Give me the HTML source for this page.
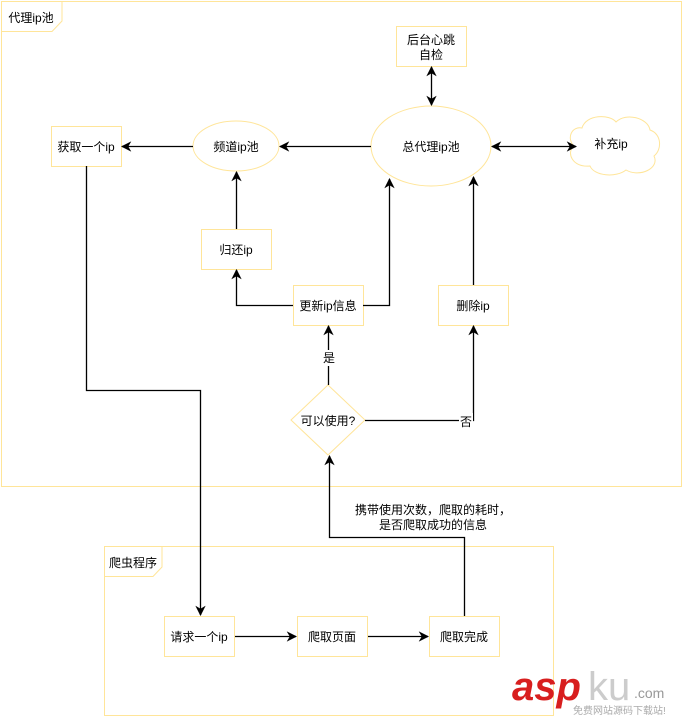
<!DOCTYPE html>
<html><head><meta charset="utf-8"><style>
body{margin:0;background:#fff;}
svg text{font-family:"Liberation Sans","Noto Sans CJK SC",sans-serif;font-size:12px;fill:#000;}
</style></head><body>
<svg width="683" height="718" viewBox="0 0 683 718" xmlns="http://www.w3.org/2000/svg">
<defs><marker id="a" viewBox="0 0 10 10" refX="9" refY="5" markerWidth="8" markerHeight="8" orient="auto-start-reverse"><path d="M0,0 L10,5 L0,10 L3,5 z" fill="#000"/></marker></defs>
<g fill="none" stroke="#ffe599" stroke-width="1">
<rect x="1.5" y="1.5" width="680" height="485"/>
<path d="M1.5,31.5 H52 L62,21 V1.5"/>
<rect x="104.5" y="546.5" width="449" height="169"/>
<path d="M104.5,576.5 H153 L162,567 V546.5"/>
<rect x="51.5" y="126.5" width="70" height="40" fill="#fff"/>
<ellipse cx="236" cy="146" rx="43" ry="25" fill="#fff"/>
<rect x="396.5" y="26.5" width="70" height="40" fill="#fff"/>
<ellipse cx="431" cy="146" rx="60" ry="40" fill="#fff"/>
<path d="M582,128 C586,114 610,114 616,122 C626,112 648,118 650,130 C662,134 662,150 654,156 C660,168 640,178 626,170 C616,178 594,176 590,166 C572,168 566,152 574,146 C566,138 572,126 582,128 Z" fill="#fff"/>
<rect x="201.5" y="229.5" width="70" height="40" fill="#fff"/>
<rect x="293.5" y="285.5" width="70" height="40" fill="#fff"/>
<rect x="438.5" y="285.5" width="70" height="40" fill="#fff"/>
<path d="M328,385 L365,420 L328,455 L291,420 Z" fill="#fff"/>
<rect x="164.5" y="616.5" width="70" height="40" fill="#fff"/>
<rect x="297.5" y="616.5" width="70" height="40" fill="#fff"/>
<rect x="429.5" y="616.5" width="70" height="40" fill="#fff"/>
</g>
<g fill="none" stroke="#000" stroke-width="1.3">
<path d="M86.5,166 V390.5 H200.5 V615" marker-end="url(#a)"/>
<path d="M464.5,616 V537.5 H329.5 V456" marker-end="url(#a)"/>
<path d="M328.5,385 V326" marker-end="url(#a)"/>
<path d="M365,420.5 H473.5 V326" marker-end="url(#a)"/>
<path d="M473.5,285 V177" marker-end="url(#a)"/>
<path d="M363,305.5 H389.5 V179" marker-end="url(#a)"/>
<path d="M293,305.5 H236.5 V270" marker-end="url(#a)"/>
<path d="M236.5,229 V172" marker-end="url(#a)"/>
<path d="M371,146.5 H280" marker-end="url(#a)"/>
<path d="M193,146.5 H122" marker-end="url(#a)"/>
<path d="M431.5,67 V105" marker-start="url(#a)" marker-end="url(#a)"/>
<path d="M492,146.5 H576" marker-start="url(#a)" marker-end="url(#a)"/>
<path d="M235,636.5 H296" marker-end="url(#a)"/>
<path d="M368,636.5 H428" marker-end="url(#a)"/>
</g>
<rect x="322" y="350" width="14" height="16" fill="#fff"/>
<rect x="459" y="413" width="14" height="16" fill="#fff"/>
<g text-anchor="middle">
<text x="31" y="22">代理ip池</text>
<text x="86" y="151">获取一个ip</text>
<text x="236" y="151">频道ip池</text>
<text x="431" y="44">后台心跳</text>
<text x="431" y="59">自检</text>
<text x="431" y="151">总代理ip池</text>
<text x="611" y="148">补充ip</text>
<text x="236" y="254">归还ip</text>
<text x="328" y="310">更新ip信息</text>
<text x="473" y="310">删除ip</text>
<text x="328" y="425">可以使用?</text>
<text x="329" y="362">是</text>
<text x="466" y="426">否</text>
<text x="433" y="514">携带使用次数，爬取的耗时，</text>
<text x="433" y="529">是否爬取成功的信息</text>
<text x="133" y="567">爬虫程序</text>
<text x="199" y="641">请求一个ip</text>
<text x="332" y="641">爬取页面</text>
<text x="464" y="641">爬取完成</text>
</g>
<text x="512" y="700" style="font-size:40px;font-weight:bold;font-style:italic;fill:#d81e1e">asp</text>
<text x="588" y="700" style="font-size:40px;fill:#ccc">ku</text>
<text x="634" y="698" style="font-size:14px;fill:#999">.com</text>
<text x="573" y="714" style="font-size:10px;fill:#aaa">免费网站源码下载站!</text>
</svg>
</body></html>
